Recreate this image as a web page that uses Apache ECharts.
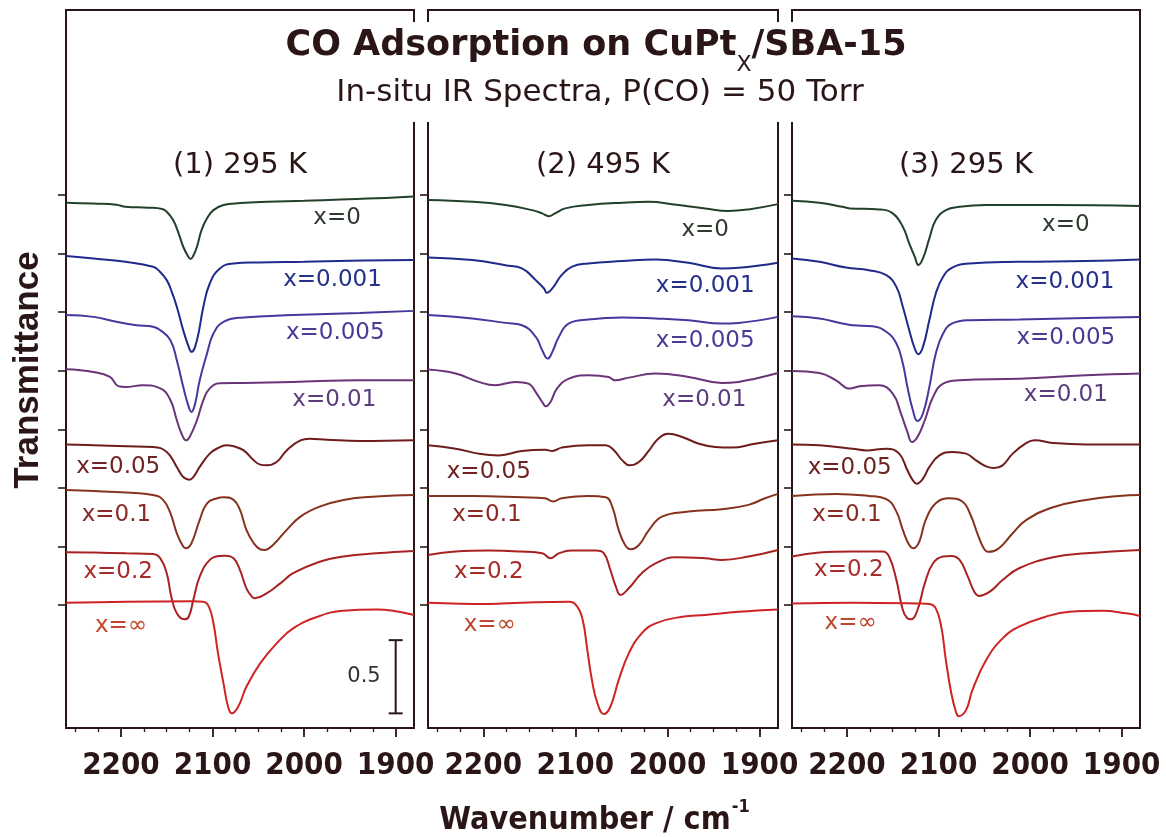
<!DOCTYPE html>
<html>
<head>
<meta charset="utf-8">
<title>CO Adsorption on CuPtx/SBA-15</title>
<script src="https://cdn.jsdelivr.net/npm/echarts@6/dist/echarts.min.js"></script>
<style>
  html, body { margin: 0; padding: 0; background: #ffffff; }
  #main { width: 1166px; height: 837px; }
</style>
</head>
<body>
<div id="main"></div>
<script>
// ---- spectra: [wavenumber (cm-1), transmittance change relative to baseline] ----
const SERIES_NAMES = ['x=0', 'x=0.001', 'x=0.005', 'x=0.01', 'x=0.05', 'x=0.1', 'x=0.2', 'x=\u221E'];
const OFFSETS = [2.8, 2.4, 2.0, 1.6, 1.2, 0.8, 0.4, 0.0];
const PANEL_TITLES = ['(1) 295 K', '(2) 495 K', '(3) 295 K'];
const MAJOR_TICKS = [1900, 2000, 2100, 2200];
const MINOR_TICKS = [1875, 1925, 1950, 1975, 2025, 2050, 2075, 2125, 2150, 2175, 2225, 2250];

// panel 1: 295 K
const P1_X0 = [[2260,-0.052],[2230,-0.058],[2205,-0.066],[2195,-0.08],[2170,-0.086],[2155,-0.095],[2150,-0.114],[2143,-0.171],[2137,-0.262],[2132,-0.353],[2127,-0.415],[2124,-0.437],[2121,-0.415],[2117,-0.353],[2112,-0.239],[2106,-0.159],[2099,-0.103],[2088,-0.068],[2070,-0.055],[2040,-0.046],[2000,-0.039],[1960,-0.03],[1920,-0.022],[1880,-0.01]];
const P1_X001 = [[2260,-0.017],[2230,-0.033],[2195,-0.056],[2165,-0.09],[2158,-0.12],[2150,-0.181],[2144,-0.27],[2139,-0.363],[2132,-0.523],[2126,-0.637],[2123,-0.671],[2117,-0.591],[2110,-0.363],[2103,-0.204],[2092,-0.101],[2077,-0.067],[2050,-0.06],[2000,-0.055],[1950,-0.049],[1880,-0.044]];
const P1_X005 = [[2260,-0.02],[2230,-0.032],[2205,-0.066],[2183,-0.089],[2165,-0.1],[2157,-0.123],[2146,-0.191],[2139,-0.328],[2132,-0.51],[2126,-0.647],[2123,-0.681],[2119,-0.624],[2114,-0.465],[2106,-0.282],[2099,-0.146],[2088,-0.066],[2066,-0.036],[2012,-0.02],[1939,-0.005],[1880,0.009]];
const P1_X01 = [[2260,0.01],[2230,-0.008],[2212,-0.042],[2203,-0.105],[2195,-0.111],[2176,-0.099],[2157,-0.12],[2146,-0.2],[2139,-0.338],[2134,-0.427],[2129,-0.475],[2125,-0.452],[2117,-0.338],[2110,-0.2],[2103,-0.12],[2092,-0.085],[2066,-0.083],[2012,-0.076],[1939,-0.065],[1880,-0.065]];
const P1_X05 = [[2260,-0.103],[2230,-0.109],[2194,-0.116],[2165,-0.121],[2150,-0.155],[2139,-0.257],[2132,-0.326],[2125,-0.344],[2121,-0.326],[2114,-0.257],[2103,-0.166],[2092,-0.121],[2085,-0.109],[2077,-0.116],[2066,-0.144],[2055,-0.212],[2048,-0.241],[2041,-0.246],[2030,-0.223],[2019,-0.144],[2004,-0.075],[1994,-0.064],[1975,-0.071],[1939,-0.08],[1880,-0.075]];
const P1_X1 = [[2260,-0.014],[2230,-0.021],[2194,-0.032],[2165,-0.048],[2154,-0.082],[2146,-0.173],[2139,-0.31],[2132,-0.401],[2129,-0.412],[2123,-0.378],[2114,-0.219],[2106,-0.105],[2095,-0.071],[2088,-0.064],[2077,-0.082],[2070,-0.15],[2063,-0.287],[2055,-0.378],[2048,-0.419],[2043,-0.424],[2034,-0.39],[2019,-0.287],[2004,-0.196],[1983,-0.128],[1957,-0.082],[1921,-0.059],[1880,-0.048]];
const P1_X2 = [[2260,-0.04],[2230,-0.042],[2194,-0.047],[2165,-0.051],[2157,-0.081],[2150,-0.183],[2145,-0.343],[2139,-0.457],[2131,-0.498],[2126,-0.48],[2121,-0.366],[2114,-0.206],[2103,-0.092],[2092,-0.065],[2086,-0.063],[2077,-0.081],[2070,-0.161],[2063,-0.286],[2057,-0.343],[2054,-0.354],[2041,-0.32],[2026,-0.252],[2012,-0.183],[1983,-0.104],[1957,-0.069],[1921,-0.047],[1880,-0.031]];
const P1_XINF = [[2260,0.016],[2194,0.023],[2121,0.025],[2110,0.023],[2104,-0.011],[2099,-0.125],[2094,-0.33],[2088,-0.535],[2083,-0.695],[2079,-0.74],[2072,-0.695],[2063,-0.558],[2048,-0.399],[2030,-0.262],[2012,-0.159],[1983,-0.075],[1957,-0.039],[1921,-0.03],[1903,-0.039],[1880,-0.068]];

// panel 2: 495 K
const P2_X0 = [[2260,-0.034],[2212,-0.046],[2176,-0.068],[2147,-0.103],[2136,-0.125],[2129,-0.144],[2122,-0.125],[2111,-0.091],[2086,-0.068],[2049,-0.052],[2020,-0.046],[1995,-0.062],[1959,-0.091],[1934,-0.109],[1912,-0.098],[1880,-0.062]];
const P2_X001 = [[2260,-0.026],[2212,-0.044],[2176,-0.079],[2158,-0.101],[2143,-0.181],[2134,-0.238],[2131,-0.268],[2125,-0.238],[2115,-0.147],[2104,-0.09],[2086,-0.067],[2049,-0.051],[2013,-0.04],[1977,-0.063],[1941,-0.101],[1923,-0.097],[1880,-0.063]];
const P2_X005 = [[2260,-0.02],[2212,-0.043],[2176,-0.073],[2158,-0.089],[2143,-0.169],[2136,-0.26],[2130,-0.317],[2125,-0.271],[2118,-0.169],[2107,-0.077],[2086,-0.05],[2049,-0.036],[2013,-0.043],[1977,-0.055],[1941,-0.077],[1923,-0.073],[1880,-0.032]];
const P2_X01 = [[2260,0.008],[2230,-0.019],[2205,-0.076],[2187,-0.099],[2165,-0.076],[2151,-0.088],[2142,-0.156],[2136,-0.213],[2132,-0.243],[2127,-0.213],[2120,-0.122],[2107,-0.054],[2086,-0.031],[2064,-0.042],[2057,-0.065],[2042,-0.047],[2013,-0.019],[1977,-0.042],[1941,-0.083],[1923,-0.076],[1905,-0.054],[1880,-0.015]];
const P2_X05 = [[2260,-0.109],[2230,-0.132],[2205,-0.166],[2183,-0.178],[2158,-0.148],[2133,-0.139],[2125,-0.148],[2115,-0.125],[2086,-0.109],[2067,-0.109],[2058,-0.144],[2049,-0.212],[2041,-0.246],[2031,-0.223],[2020,-0.144],[2010,-0.064],[1999,-0.03],[1984,-0.052],[1966,-0.098],[1948,-0.121],[1930,-0.125],[1905,-0.098],[1880,-0.075]];
const P2_X1 = [[2260,-0.055],[2212,-0.055],[2158,-0.064],[2133,-0.071],[2124,-0.093],[2115,-0.071],[2086,-0.055],[2067,-0.064],[2060,-0.128],[2053,-0.287],[2046,-0.39],[2040,-0.419],[2031,-0.39],[2020,-0.287],[2006,-0.196],[1977,-0.162],[1941,-0.146],[1912,-0.116],[1894,-0.071],[1880,-0.041]];
const P2_X2 = [[2260,-0.058],[2230,-0.035],[2194,-0.028],[2158,-0.035],[2136,-0.047],[2127,-0.081],[2118,-0.047],[2104,-0.028],[2078,-0.028],[2069,-0.047],[2062,-0.161],[2056,-0.275],[2051,-0.331],[2042,-0.286],[2028,-0.183],[2013,-0.115],[1991,-0.074],[1959,-0.081],[1941,-0.092],[1912,-0.069],[1880,-0.024]];
const P2_XINF = [[2260,0.016],[2194,0.007],[2158,0.016],[2107,0.023],[2098,-0.011],[2092,-0.103],[2087,-0.308],[2082,-0.513],[2076,-0.672],[2069,-0.745],[2062,-0.695],[2053,-0.513],[2042,-0.33],[2028,-0.194],[2013,-0.125],[1984,-0.08],[1959,-0.068],[1923,-0.046],[1880,-0.03]];

// panel 3: 295 K after heating
const P3_X0 = [[2260,-0.039],[2230,-0.052],[2205,-0.08],[2197,-0.091],[2165,-0.098],[2150,-0.125],[2139,-0.216],[2132,-0.33],[2126,-0.421],[2122,-0.478],[2117,-0.433],[2110,-0.296],[2103,-0.171],[2092,-0.103],[2077,-0.08],[2048,-0.068],[1975,-0.068],[1880,-0.075]];
const P3_X001 = [[2260,-0.033],[2230,-0.056],[2201,-0.095],[2176,-0.113],[2157,-0.147],[2146,-0.227],[2139,-0.363],[2132,-0.523],[2126,-0.648],[2122,-0.687],[2117,-0.637],[2110,-0.454],[2103,-0.272],[2095,-0.158],[2085,-0.095],[2066,-0.067],[2012,-0.056],[1939,-0.051],[1880,-0.04]];
const P3_X005 = [[2260,-0.027],[2230,-0.043],[2205,-0.077],[2194,-0.089],[2172,-0.096],[2157,-0.134],[2146,-0.214],[2139,-0.351],[2134,-0.51],[2128,-0.67],[2123,-0.743],[2117,-0.692],[2110,-0.51],[2103,-0.282],[2095,-0.146],[2085,-0.077],[2066,-0.055],[2012,-0.05],[1939,-0.039],[1880,-0.032]];
const P3_X01 = [[2260,-0.001],[2230,-0.015],[2212,-0.065],[2197,-0.122],[2186,-0.106],[2165,-0.099],[2150,-0.156],[2141,-0.293],[2134,-0.418],[2129,-0.486],[2123,-0.452],[2115,-0.338],[2106,-0.179],[2095,-0.088],[2077,-0.065],[2012,-0.054],[1939,-0.031],[1880,-0.019]];
const P3_X05 = [[2260,-0.103],[2230,-0.109],[2194,-0.132],[2179,-0.144],[2157,-0.132],[2143,-0.166],[2134,-0.28],[2128,-0.349],[2124,-0.371],[2117,-0.337],[2110,-0.257],[2099,-0.178],[2085,-0.155],[2070,-0.166],[2059,-0.212],[2048,-0.253],[2039,-0.264],[2030,-0.246],[2019,-0.166],[2004,-0.093],[1995,-0.075],[1975,-0.093],[1939,-0.103],[1880,-0.103]];
const P3_X1 = [[2260,-0.055],[2212,-0.041],[2176,-0.055],[2157,-0.077],[2146,-0.162],[2139,-0.287],[2132,-0.39],[2127,-0.412],[2121,-0.367],[2114,-0.219],[2103,-0.105],[2088,-0.071],[2074,-0.093],[2065,-0.185],[2057,-0.321],[2050,-0.419],[2045,-0.437],[2034,-0.412],[2019,-0.31],[2004,-0.219],[1975,-0.132],[1939,-0.082],[1903,-0.055],[1880,-0.048]];
const P3_X2 = [[2260,-0.069],[2230,-0.042],[2194,-0.035],[2161,-0.035],[2154,-0.069],[2146,-0.229],[2139,-0.434],[2134,-0.491],[2130,-0.498],[2123,-0.434],[2115,-0.252],[2106,-0.115],[2095,-0.069],[2086,-0.065],[2077,-0.092],[2068,-0.206],[2061,-0.309],[2056,-0.338],[2044,-0.309],[2030,-0.229],[2012,-0.149],[1975,-0.074],[1939,-0.047],[1880,-0.024]];
const P3_XINF = [[2260,0.011],[2194,0.016],[2121,0.011],[2110,0.007],[2103,-0.023],[2097,-0.148],[2092,-0.376],[2086,-0.604],[2081,-0.729],[2078,-0.759],[2070,-0.718],[2063,-0.581],[2048,-0.376],[2030,-0.228],[2012,-0.148],[1983,-0.08],[1957,-0.046],[1921,-0.039],[1895,-0.057],[1880,-0.075]];

const PANEL_SPECTRA = [
  [P1_X0, P1_X001, P1_X005, P1_X01, P1_X05, P1_X1, P1_X2, P1_XINF],
  [P2_X0, P2_X001, P2_X005, P2_X01, P2_X05, P2_X1, P2_X2, P2_XINF],
  [P3_X0, P3_X001, P3_X005, P3_X01, P3_X05, P3_X1, P3_X2, P3_XINF]
];

// scale bar: length 0.5 in transmittance units
const SCALE_BAR = { wavenumber: 1900, start: -0.74, length: 0.5 };

// ---- styling / layout ----
const INK = '#2a1616';
const LINE_COLORS = ['#23402a', '#1f2a8a', '#46389c', '#6a3478', '#6e1c1c', '#86321e', '#a82222', '#cf2424'];
const LABEL_COLORS = ['#2e3b2e', '#24308a', '#4a3a96', '#5b3d7e', '#6e2222', '#8a2a24', '#a82c2a', '#c2452e'];
const GRIDS = [{ left: 66, width: 348 }, { left: 428, width: 350 }, { left: 792, width: 348 }];
const GRID_TOP = 10, GRID_HEIGHT = 718;
const Y_MIN = -0.84, Y_MAX = 4.064;
// label anchor points (data coordinates) per panel
const LABEL_ANCHORS = [
  [[1964, 2.643], [1969, 2.22], [1966, 1.858], [1967, 1.40], [2203, 0.943], [2205, 0.615], [2203, 0.225], [2200, -0.143]],
  [[1959, 2.561], [1959, 2.179], [1959, 1.803], [1960, 1.40], [2194, 0.908], [2196, 0.615], [2194, 0.225], [2193, -0.137]],
  [[1961, 2.596], [1962, 2.206], [1961, 1.824], [1961, 1.434], [2197, 0.936], [2200, 0.615], [2198, 0.239], [2196, -0.123]]
];

const SANS = '"DejaVu Sans", "Liberation Sans", sans-serif';
const NARROW = '"Liberation Sans Narrow", "DejaVu Sans Condensed", "Liberation Sans", sans-serif';

const chart = echarts.init(document.getElementById('main'), null, { renderer: 'canvas' });

const measureCtx = document.createElement('canvas').getContext('2d');
function textWidth(str, font) { measureCtx.font = font; return measureCtx.measureText(str).width; }

// size the condensed bold tick labels so that a four-digit label is ~78 px wide
const tickFontSize = Math.min(42, Math.round(78 / (textWidth('2200', 'bold 100px ' + NARROW) / 100)));
const xTitleSize = Math.min(38, Math.round(292 / (textWidth('Wavenumber / cm', 'bold 100px ' + NARROW) / 100)));

const grid = GRIDS.map(g => ({
  left: g.left, width: g.width, top: GRID_TOP, height: GRID_HEIGHT,
  show: true, borderColor: INK, borderWidth: 2, backgroundColor: 'transparent',
  containLabel: false, outerBoundsMode: 'none'
}));

const xAxis = [];
const yAxis = [];
GRIDS.forEach((g, i) => {
  xAxis.push({
    gridIndex: i, type: 'value', inverse: true, min: 1880, max: 2260, position: 'bottom',
    axisLine: { show: true, onZero: false, lineStyle: { color: INK, width: 2 } },
    axisTick: { show: true, inside: false, length: 9, customValues: MAJOR_TICKS, lineStyle: { color: INK, width: 1.8 } },
    axisLabel: {
      show: true, customValues: MAJOR_TICKS, formatter: v => String(v), hideOverlap: false,
      showMinLabel: true, showMaxLabel: true,
      margin: 22, fontSize: tickFontSize, fontWeight: 'bold', fontFamily: NARROW, color: INK
    },
    splitLine: { show: false }
  });
  xAxis.push({
    gridIndex: i, type: 'value', inverse: true, min: 1880, max: 2260, position: 'bottom',
    axisLine: { show: false, onZero: false },
    axisTick: { show: true, inside: false, length: 4, customValues: MINOR_TICKS, lineStyle: { color: INK, width: 1.3 } },
    axisLabel: { show: false },
    splitLine: { show: false }
  });
  yAxis.push({
    gridIndex: i, type: 'value', min: Y_MIN, max: Y_MAX, position: 'left',
    axisLine: { show: true, onZero: false, lineStyle: { color: INK, width: 2 } },
    axisTick: { show: true, inside: false, length: 8, customValues: OFFSETS, lineStyle: { color: INK, width: 1.6 } },
    axisLabel: { show: false },
    splitLine: { show: false }
  });
});

const series = [];
PANEL_SPECTRA.forEach((spectra, p) => {
  spectra.forEach((spec, k) => {
    const [lx, ly] = LABEL_ANCHORS[p][k];
    series.push({
      type: 'line', name: SERIES_NAMES[k],
      xAxisIndex: p * 2, yAxisIndex: p,
      data: spec.map(([w, v]) => [w, v + OFFSETS[k]]),
      showSymbol: false, symbol: 'none',
      smooth: 0.45,
      lineStyle: { color: LINE_COLORS[k], width: 2 },
      silent: true, animation: false,
      markPoint: {
        symbol: 'circle', symbolSize: 0, silent: true, animation: false,
        data: [{ coord: [lx, ly] }],
        label: {
          show: true, position: 'inside', formatter: SERIES_NAMES[k],
          fontFamily: SANS, fontSize: 23, color: LABEL_COLORS[k]
        }
      }
    });
  });
});

series.push({
  type: 'custom', xAxisIndex: 0, yAxisIndex: 0, silent: true, animation: false,
  data: [[SCALE_BAR.wavenumber, SCALE_BAR.start, SCALE_BAR.length]],
  renderItem: (params, api) => {
    const x = api.value(0), y0 = api.value(1), len = api.value(2);
    const a = api.coord([x, y0]), b = api.coord([x, y0 + len]);
    const st = { stroke: INK, lineWidth: 2 };
    return {
      type: 'group', children: [
        { type: 'line', shape: { x1: a[0], y1: a[1], x2: b[0], y2: b[1] }, style: st },
        { type: 'line', shape: { x1: a[0] - 7, y1: a[1], x2: a[0] + 7, y2: a[1] }, style: st },
        { type: 'line', shape: { x1: b[0] - 7, y1: b[1], x2: b[0] + 7, y2: b[1] }, style: st },
        { type: 'text', style: { text: String(len), x: a[0] - 15, y: (a[1] + b[1]) / 2, align: 'right', verticalAlign: 'middle', fontFamily: SANS, fontSize: 21, fill: '#333333' } }
      ]
    };
  }
});

// title block: white box over the inner panel borders
const TITLE_FONT = 'bold 35px "DejaVu Sans"';
const SUB_FONT = '22px "DejaVu Sans"';
const t1 = 'CO Adsorption on CuPt', tSub = 'X', t2 = '/SBA-15';
const w1 = textWidth(t1, TITLE_FONT), wS = textWidth(tSub, SUB_FONT), w2 = textWidth(t2, TITLE_FONT);
const titleX0 = 596 - (w1 + wS + w2) / 2;

const XT_FONT = 'bold ' + xTitleSize + 'px ' + NARROW;
const XT_SUP_FONT = 'bold ' + Math.round(xTitleSize * 0.55) + 'px ' + NARROW;
const xt1 = 'Wavenumber / cm', xtSup = '-1';
const xw1 = textWidth(xt1, XT_FONT), xwS = textWidth(xtSup, XT_SUP_FONT);
const xtX0 = 594 - (xw1 + xwS) / 2;

const graphic = [
  { type: 'rect', z: 100, shape: { x: 236, y: 22, width: 694, height: 100 }, style: { fill: '#ffffff' } },
  { type: 'text', z: 101, x: titleX0, y: 46, style: { text: t1, font: TITLE_FONT, fill: INK, align: 'left', verticalAlign: 'middle' } },
  { type: 'text', z: 101, x: titleX0 + w1, y: 65, style: { text: tSub, font: SUB_FONT, fill: INK, align: 'left', verticalAlign: 'middle' } },
  { type: 'text', z: 101, x: titleX0 + w1 + wS, y: 46, style: { text: t2, font: TITLE_FONT, fill: INK, align: 'left', verticalAlign: 'middle' } },
  { type: 'text', z: 101, x: 600, y: 93, style: { text: 'In-situ IR Spectra, P(CO) = 50 Torr', fontFamily: SANS, fontSize: 31, fill: INK, align: 'center', verticalAlign: 'middle' } },
  { type: 'text', z: 101, x: 28, y: 370, rotation: Math.PI / 2, style: { text: 'Transmittance', fontFamily: '"Liberation Sans", Arial, sans-serif', fontWeight: 'bold', fontSize: 35, fill: INK, align: 'center', verticalAlign: 'middle' } },
  { type: 'text', z: 101, x: xtX0, y: 821, style: { text: xt1, font: XT_FONT, fill: INK, align: 'left', verticalAlign: 'middle' } },
  { type: 'text', z: 101, x: xtX0 + xw1 + 1, y: 807, style: { text: xtSup, font: XT_SUP_FONT, fill: INK, align: 'left', verticalAlign: 'middle' } }
];
GRIDS.forEach((g, i) => {
  graphic.push({ type: 'text', z: 101, x: g.left + g.width / 2, y: 165, style: { text: PANEL_TITLES[i], fontFamily: SANS, fontSize: 29, fill: INK, align: 'center', verticalAlign: 'middle' } });
});

chart.setOption({
  animation: false,
  backgroundColor: '#ffffff',
  grid, xAxis, yAxis, series, graphic
});
</script>
</body>
</html>
